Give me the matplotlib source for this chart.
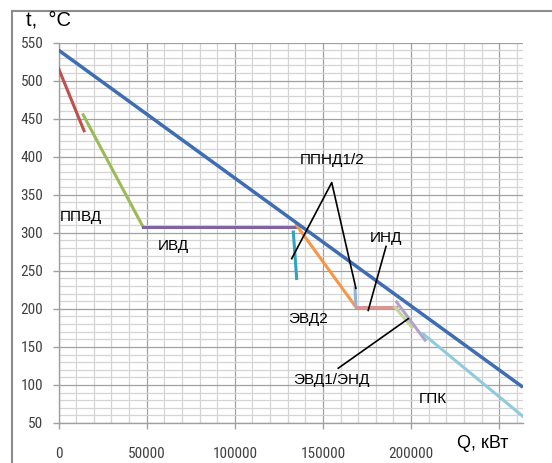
import matplotlib
matplotlib.use("Agg")
import matplotlib.pyplot as plt
from matplotlib.ticker import MultipleLocator
from matplotlib import font_manager

# ---- data ----
main_q = [0, 263500]
main_t = [540, 97]
ppvd1_q = [0, 14500]
ppvd1_t = [516, 434]
ppvd2_q = [14000, 47900]
ppvd2_t = [455, 308]
ivd_q = [47900, 135000]
ivd_t = [308, 308]
evd2_q = [135000, 168500]
evd2_t = [310, 203]
ppnd_a_q = [133200, 135100]
ppnd_a_t = [301, 240]
ppnd_b_q = [168200, 168700]
ppnd_b_t = [227, 204]
ind_q = [169000, 191500]
ind_t = [202, 202]
evd1_q = [191800, 207900]
evd1_t = [209, 159]
end_q = [190900, 200500]
end_t = [202, 176]
gpk_q = [206900, 263300]
gpk_t = [167, 59]

x_ticks = [0, 50000, 100000, 150000, 200000, 250000]
x_tick_labels = ["0", "50000", "100000", "150000", "200000", ""]
y_ticks = [50, 100, 150, 200, 250, 300, 350, 400, 450, 500, 550]

labels = ["ППВД", "ИВД", "ППНД1/2", "ИНД", "ЭВД2", "ЭВД1/ЭНД", "ГПК"]
label_q = [850, 56400, 155500, 176300, 141400, 155100, 212100]
label_t = [321, 282, 396, 293, 187, 106, 81]
label_ha = ["left", "left", "center", "left", "center", "center", "center"]

# leader lines (from label to curve)
lead_q = [[132300, 155000, 168700], [185800, 175700], [198400, 158700]]
lead_t = [[266, 366, 227], [282, 198], [187, 122]]

names = {f.name for f in font_manager.fontManager.ttflist}
narrow = "Liberation Sans"
for cand in ["Liberation Sans Narrow", "DejaVu Sans Condensed", "Noto Sans Condensed",
             "Roboto Condensed", "Open Sans Condensed"]:
    if cand in names:
        narrow = cand
        break
tick_size = 11 if narrow != "Liberation Sans" else 10
plt.rcParams['font.family'] = ['Liberation Sans', 'DejaVu Sans']

fig = plt.figure(figsize=(5.52, 4.63), dpi=100)
ax = fig.add_axes([58.5/552, 40/463, (523-58.5)/552, (423-42.5)/463])

# grid
ax.set_xlim(0, 263500)
ax.set_ylim(50, 550)
ax.xaxis.set_major_locator(MultipleLocator(50000))
ax.xaxis.set_minor_locator(MultipleLocator(10000))
ax.yaxis.set_major_locator(MultipleLocator(50))
ax.yaxis.set_minor_locator(MultipleLocator(10))
ax.grid(which='major', color='#a0a0a0', lw=0.9)
ax.grid(which='minor', color='#d4d4d4', lw=0.9)
ax.set_axisbelow(True)
for s in ['top', 'right']:
    ax.spines[s].set_visible(False)
for s in ['left', 'bottom']:
    ax.spines[s].set_color('#a0a0a0')
    ax.spines[s].set_linewidth(1.0)
ax.tick_params(which='major', direction='out', length=4, color='#a0a0a0', width=1.0,
               labelsize=tick_size, labelcolor='#404040')
ax.tick_params(which='minor', length=0)
ax.tick_params(axis='x', pad=13)
ax.tick_params(axis='y', pad=7)
ax.set_xticks(x_ticks)
ax.set_xticklabels(x_tick_labels)
ax.set_yticks(y_ticks)
for lab in ax.get_xticklabels() + ax.get_yticklabels():
    lab.set_family(narrow)

lw = 2.2
ax.plot(main_q, main_t, color='#3d6db3', lw=2.5, solid_capstyle='butt', zorder=5)
ax.plot(ppvd1_q, ppvd1_t, color='#c0504d', lw=lw, zorder=4)
ax.plot(ppvd2_q, ppvd2_t, color='#9bbb59', lw=lw, zorder=4)
ax.plot(ivd_q, ivd_t, color='#8064a2', lw=lw, zorder=4)
ax.plot(evd2_q, evd2_t, color='#f79646', lw=lw, zorder=4)
ax.plot(ppnd_a_q, ppnd_a_t, color='#31a3bd', lw=lw, zorder=4)
ax.plot(ppnd_b_q, ppnd_b_t, color='#95b3d7', lw=lw, zorder=4)
ax.plot(ind_q, ind_t, color='#d99694', lw=lw, zorder=4)
ax.plot(end_q, end_t, color='#c3d69b', lw=lw, zorder=4)
ax.plot(evd1_q, evd1_t, color='#b3a2c7', lw=lw, zorder=4)
ax.plot(gpk_q, gpk_t, color='#8fcbdc', lw=lw, zorder=4)

for q, t in zip(lead_q, lead_t):
    ax.plot(q, t, color='black', lw=1.2, zorder=6)

for s, q, t, ha in zip(labels, label_q, label_t, label_ha):
    ax.text(q, t, s, ha=ha, va='center', fontsize=11, color='black', zorder=7)

fig.text(26/552, 1 - 20/463, "t,  °C", ha='left', va='center', fontsize=14.5)
fig.text(457/552, 1 - 444/463, "Q, кВт", ha='left', va='center', fontsize=13)

# chart-area border (top and left visible)
fig.add_artist(plt.Line2D([12/552, 12/552], [0, 1 - 11/463], transform=fig.transFigure,
                          color='#8c8c8c', lw=1.5))
fig.add_artist(plt.Line2D([12/552, 1], [1 - 11/463, 1 - 11/463], transform=fig.transFigure,
                          color='#8c8c8c', lw=1.5))

fig.savefig("out.png", dpi=100)
